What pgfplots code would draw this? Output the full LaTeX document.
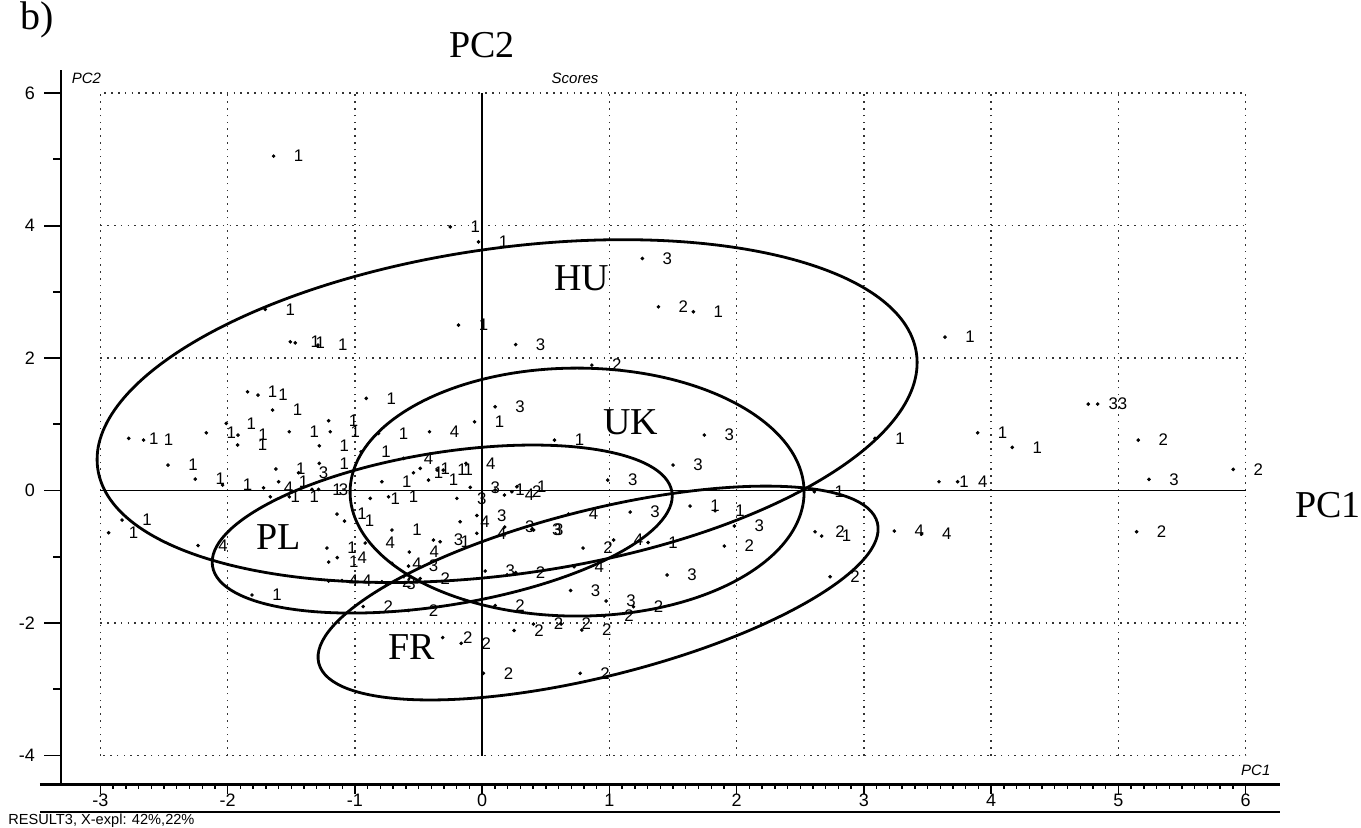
\documentclass[border=0pt]{standalone}
\usepackage{pgfplots}
\pgfplotsset{compat=1.18}
\usepackage{pgfplotstable}
\usepackage{fontspec}
\setmainfont{Liberation Sans}
\newfontfamily\serifbig{Liberation Serif}

\pgfplotstableread{
x y l
-1.639 5.049 1
-0.251 3.982 1
-0.029 3.755 1
1.259 3.505 3
1.385 2.774 2
1.660 2.699 1
-1.705 2.735 1
-1.508 2.246 1
-1.469 2.231 1
-1.291 2.196 1
-0.186 2.498 1
0.263 2.204 3
3.637 2.317 1
0.862 1.894 2
-1.844 1.491 1
-1.762 1.442 1
-1.647 1.215 1
-0.911 1.392 1
-0.060 1.038 1
0.102 1.265 3
-2.778 0.788 1
-2.661 0.762 1
-2.168 0.872 1
-2.011 1.014 1
-1.919 0.838 1
-1.922 0.687 1
-1.516 0.888 1
-1.207 1.054 1
-1.194 0.888 1
-1.280 0.676 1
-2.469 0.385 1
-2.255 0.174 1
-1.621 0.325 1
-1.443 0.269 3
-1.280 0.411 1
-2.040 0.083 1
-1.718 0.042 4
-1.600 0.133 1
-1.665 -0.094 1
-1.516 -0.094 1
-1.338 0.018 1
-1.286 0.018 3
-0.788 0.133 1
-0.736 -0.094 1
-0.880 -0.118 1
-0.540 0.269 1
-0.487 0.335 1
-0.422 0.158 1
-0.354 0.309 1
-0.306 0.309 1
-0.128 0.411 4
-0.094 0.048 3
-0.199 -0.118 3
-0.414 0.888 4
-0.815 0.863 1
-0.951 0.586 1
-0.618 0.486 4
0.568 0.762 1
1.500 0.385 3
1.746 0.838 3
0.102 0.008 1
0.175 -0.068 4
0.233 -0.018 2
0.273 0.057 1
0.987 0.158 3
3.087 0.788 1
4.763 1.306 3
4.837 1.306 3
3.894 0.872 1
4.166 0.652 1
5.156 0.762 2
5.902 0.320 2
5.240 0.169 3
3.590 0.133 1
3.737 0.133 4
2.610 -0.018 1
-2.830 -0.445 1
-2.936 -0.637 1
-1.141 -0.355 1
-1.082 -0.460 1
-0.709 -0.596 1
-0.919 -0.792 4
-0.042 -0.377 3
-0.173 -0.471 4
-0.042 -0.646 4
-0.383 -0.747 3
-0.330 -0.773 1
-2.233 -0.830 4
0.177 -0.551 3
0.390 -0.586 3
0.405 -0.596 3
0.678 -0.355 4
1.163 -0.325 3
1.304 -0.785 1
1.033 -0.747 4
0.793 -0.868 2
1.634 -0.234 1
1.830 -0.305 1
1.982 -0.536 3
2.616 -0.622 2
2.668 -0.687 1
3.239 -0.611 4
3.454 -0.657 4
1.903 -0.838 2
5.143 -0.622 2
-1.220 -0.868 1
-1.206 -1.079 1
-1.139 -1.011 4
-0.573 -0.928 4
-0.709 -1.099 4
-0.579 -1.140 3
-1.207 -1.366 4
-1.102 -1.358 4
-0.788 -1.377 2
-0.756 -1.401 3
-0.487 -1.328 2
0.024 -1.215 3
0.263 -1.238 2
0.723 -1.150 4
1.453 -1.275 3
2.734 -1.301 2
0.695 -1.509 3
-1.809 -1.577 1
-0.935 -1.751 2
-0.579 -1.811 2
0.102 -1.736 2
0.974 -1.668 3
0.958 -1.894 2
1.189 -1.754 2
0.251 -2.113 2
0.403 -2.015 2
0.621 -2.015 2
0.783 -2.106 2
-0.310 -2.219 2
-0.165 -2.306 2
0.010 -2.759 2
0.770 -2.759 2
}\scores

\begin{document}
\begin{tikzpicture}
\useasboundingbox (-30.5pt,-21.5pt) rectangle (650pt,392.5pt);
\begin{axis}[
  at={(0,0)}, anchor=south west,
  scale only axis, width=609.5pt, height=357.5pt,
  xmin=-3.31, xmax=6.27, ymin=-4.445, ymax=6.35,
  axis x line=bottom, axis y line=left,
  x axis line style={-, line width=1.5pt},
  y axis line style={-, line width=0.9pt},
  xtick={-3,...,6}, xticklabels={-3,-2,-1,0,1,2,3,4,5,6},
  ytick={-4,-2,0,2,4,6}, yticklabels={-4,-2,0,2,4,6},
  minor x tick num=9,
  tick align=outside,
  major tick length=4.5pt, minor tick length=2pt,
  ytick style={draw=none},
  xtick style={line width=0.7pt, black},
  ticklabel style={font=\fontsize{9}{10}\selectfont},
  xticklabel style={yshift=3.5pt},
  yticklabel style={xshift=-5pt},
  clip=false,
]
% grid
\draw[black!80, line width=0.8pt, dash pattern=on 0.8pt off 2.6pt] (axis cs:-3,-4) rectangle (axis cs:6,6);
\pgfplotsinvokeforeach{-2,-1,1,2,3,4,5}{
  \draw[black!80, line width=0.8pt, dash pattern=on 0.8pt off 2.6pt] (axis cs:#1,-4) -- (axis cs:#1,6);
}
\pgfplotsinvokeforeach{-2,2,4}{
  \draw[black!80, line width=0.8pt, dash pattern=on 0.8pt off 2.6pt] (axis cs:-3,#1) -- (axis cs:6,#1);
}
\draw[line width=0.75pt] (axis cs:-3,0) -- (axis cs:6,0);
\draw[line width=0.75pt] (axis cs:0,-4) -- (axis cs:0,6);
% manual y ticks
\pgfplotsinvokeforeach{-4,-2,0,2,4,6}{
  \draw[line width=0.9pt] (axis cs:-3.31,#1) -- ++(-8.5pt,0pt);
}
\pgfplotsinvokeforeach{-3,-1,1,3,5}{
  \draw[line width=0.9pt] (axis cs:-3.31,#1) -- ++(-4pt,0pt);
}
% extra frame lines
\draw[line width=1.5pt] ([xshift=-10.5pt]rel axis cs:0,0) -- (rel axis cs:0,0);
\draw[line width=1.2pt] ([xshift=-10.5pt,yshift=-13.5pt]rel axis cs:0,0) -- ([yshift=-13.5pt]rel axis cs:1,0);
% ellipses
\draw[line width=1.4pt, rotate around={8:(axis cs:0.196,1.200)}] (axis cs:0.196,1.200) ellipse [x radius=206.7pt, y radius=81.5pt];
\draw[line width=1.4pt] (axis cs:0.746,-0.023) ellipse [x radius=113.5pt, y radius=62pt];
\draw[line width=1.4pt, rotate around={9.2:(axis cs:-0.314,-0.581)}] (axis cs:-0.314,-0.581) ellipse [x radius=116.35pt, y radius=38.15pt];
\draw[line width=1.4pt, rotate around={14.1:(axis cs:0.911,-1.547)}] (axis cs:0.911,-1.547) ellipse [x radius=144pt, y radius=41.6pt];
% scores
\addplot[only marks, mark=*, mark size=0.7pt, black,
  nodes near coords, point meta=explicit symbolic,
  nodes near coords style={anchor=center, xshift=12.5pt, inner sep=0pt, font=\fontsize{8.4}{9}\selectfont, text=black}]
  table[x=x, y=y, meta=l] {\scores};
% labels
\node[font=\serifbig\fontsize{19}{19}\selectfont] at (axis cs:0.783,3.203) {HU};
\node[font=\serifbig\fontsize{19}{19}\selectfont] at (axis cs:1.169,1.026) {UK};
\node[font=\serifbig\fontsize{19}{19}\selectfont] at (axis cs:-1.600,-0.697) {PL};
\node[font=\serifbig\fontsize{19}{19}\selectfont] at (axis cs:-0.553,-2.370) {FR};
\node[font=\serifbig\fontsize{19}{19}\selectfont] at (axis cs:6.649,-0.219) {PC1};
\node[font=\serifbig\fontsize{19}{19}\selectfont] at (axis cs:0,6.725) {PC2};
\node[font=\serifbig\fontsize{20}{20}\selectfont, inner sep=0pt] at (axis cs:-3.50,7.10) {b)};
\node[font=\itshape\fontsize{7.5}{8}\selectfont, anchor=west] at (axis cs:-3.28,6.23) {PC2};
\node[font=\itshape\fontsize{7.5}{8}\selectfont] at (axis cs:0.73,6.23) {Scores};
\node[font=\itshape\fontsize{7.5}{8}\selectfont] at (axis cs:6.08,-4.22) {PC1};
\node[font=\fontsize{7.3}{8}\selectfont, anchor=west, inner sep=0pt] at ([xshift=-26.5pt,yshift=-17.8pt]rel axis cs:0,0) {RESULT3, X-expl: 42\%,22\%};
\end{axis}
\end{tikzpicture}
\end{document}
